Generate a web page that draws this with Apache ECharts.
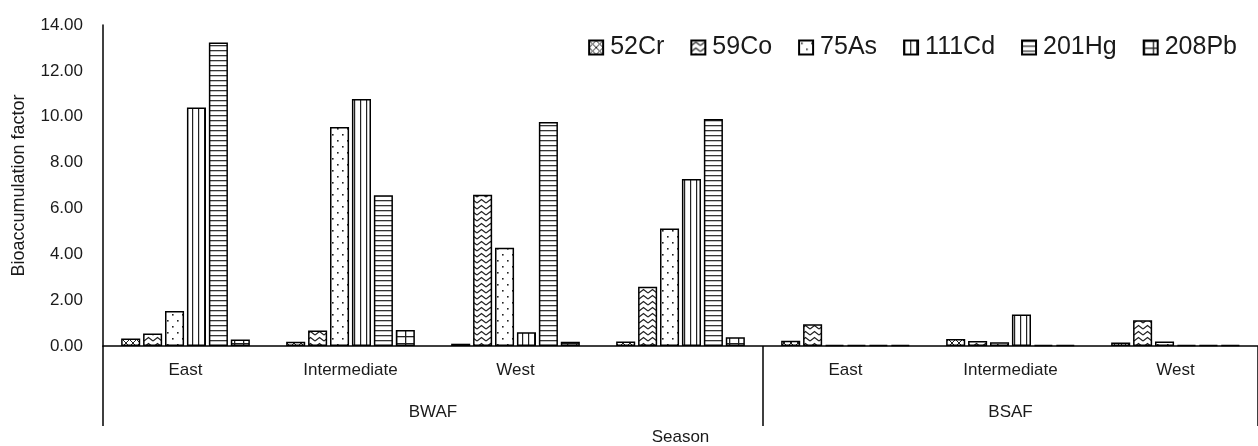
<!DOCTYPE html>
<html>
<head>
<meta charset="utf-8">
<script src="https://cdn.jsdelivr.net/npm/echarts@6/dist/echarts.min.js"></script>
<style>html,body{margin:0;padding:0;background:#fff}#c{width:1258px;height:446px}</style>
</head>
<body>
<div id="c"></div>
<script>
const categories = ['East', 'Intermediate', 'West', '', 'East', 'Intermediate', 'West'];
const groupLabels = ['BWAF', 'BSAF'];
const yTicks = [0, 2, 4, 6, 8, 10, 12, 14];
const seriesNames = ['52Cr', '59Co', '75As', '111Cd', '201Hg', '208Pb'];
const cr52 = [0.33, 0.18, 0.10, 0.20, 0.23, 0.30, 0.15];
const co59 = [0.55, 0.68, 6.60, 2.58, 0.95, 0.22, 1.12];
const as75 = [1.53, 9.55, 4.28, 5.13, 0.05, 0.16, 0.20];
const cd111 = [10.40, 10.77, 0.60, 7.28, 0.05, 1.37, 0.04];
const hg201 = [13.24, 6.58, 9.77, 9.90, 0.05, 0.05, 0.04];
const pb208 = [0.28, 0.70, 0.19, 0.38, 0.05, 0.05, 0.04];
const seriesValues = [cr52, co59, as75, cd111, hg201, pb208];

function makePattern(w, h, draw) {
  const c = document.createElement('canvas');
  c.width = w; c.height = h;
  const ctx = c.getContext('2d');
  ctx.fillStyle = '#fff';
  ctx.fillRect(0, 0, w, h);
  ctx.strokeStyle = '#222';
  ctx.fillStyle = '#222';
  ctx.lineWidth = 1;
  draw(ctx, w, h);
  return { image: c, repeat: 'repeat' };
}
const patterns = [
  makePattern(7, 7, (ctx) => {
    ctx.beginPath();
    ctx.moveTo(0, 0); ctx.lineTo(7, 7);
    ctx.moveTo(7, 0); ctx.lineTo(0, 7);
    ctx.stroke();
  }),
  makePattern(9, 6, (ctx) => {
    ctx.lineWidth = 1.2;
    ctx.beginPath();
    ctx.moveTo(0, 5); ctx.lineTo(4.5, 1.5); ctx.lineTo(9, 5);
    ctx.stroke();
  }),
  makePattern(10, 12, (ctx) => {
    ctx.fillRect(2, 2, 1.6, 1.6);
    ctx.fillRect(7, 8, 1.6, 1.6);
  }),
  makePattern(6, 4, (ctx) => {
    ctx.fillRect(0, 0, 1.2, 4);
  }),
  makePattern(4, 5, (ctx) => {
    ctx.fillStyle = '#333';
    ctx.fillRect(0, 0, 4, 1.3);
  }),
  makePattern(9, 7, (ctx) => {
    ctx.fillRect(0, 0, 9, 1.3);
    ctx.fillRect(0, 0, 1.3, 7);
  })
];

const FONT = '"Liberation Sans", Arial, sans-serif';
const TXT = '#1a1a1a';

const chart = echarts.init(document.getElementById('c'));
chart.setOption({
  animation: false,
  backgroundColor: '#fff',
  textStyle: { fontFamily: FONT, color: TXT },
  legend: {
    data: seriesNames,
    right: 16,
    top: 30,
    itemWidth: 14,
    itemHeight: 14,
    itemGap: 26,
    icon: 'rect',
    textStyle: { fontSize: 25, fontFamily: FONT, color: TXT, padding: [0, 0, 0, 2] }
  },
  grid: { left: 103, right: 0, top: 25, bottom: 100, containLabel: false, outerBoundsMode: 'none' },
  xAxis: [
    {
      type: 'category',
      data: categories,
      position: 'bottom',
      axisLine: { show: true, lineStyle: { color: '#000', width: 1.5 } },
      axisTick: { show: false },
      axisLabel: { interval: 0, margin: 16, fontSize: 17, color: TXT, fontFamily: FONT }
    },
    {
      type: 'category',
      data: categories,
      position: 'bottom',
      axisLine: { show: false },
      axisTick: {
        show: true,
        length: 80,
        interval: function (i) { return i === 0 || i === 4; },
        lineStyle: { color: '#000', width: 1.5 }
      },
      axisLabel: { show: false },
      splitLine: { show: false }
    },
    {
      type: 'value',
      min: 0,
      max: categories.length,
      interval: 0.5,
      position: 'bottom',
      axisLine: { show: false },
      axisTick: { show: false },
      splitLine: { show: false },
      axisLabel: {
        margin: 58,
        fontSize: 17,
        color: TXT,
        fontFamily: FONT,
        formatter: function (v) {
          if (v === 2) return groupLabels[0];
          if (v === 5.5) return groupLabels[1];
          return '';
        }
      },
      name: 'Season',
      nameLocation: 'middle',
      nameGap: 83,
      nameTextStyle: { fontSize: 17, color: TXT, fontFamily: FONT }
    }
  ],
  yAxis: {
    type: 'value',
    min: yTicks[0],
    max: yTicks[yTicks.length - 1],
    interval: 2,
    axisLine: { show: true, lineStyle: { color: '#000', width: 1.5 } },
    axisTick: { show: false },
    splitLine: { show: false },
    axisLabel: {
      margin: 20,
      fontSize: 17,
      color: TXT,
      fontFamily: FONT,
      formatter: function (v) { return v.toFixed(2); }
    },
    name: 'Bioaccumulation factor',
    nameLocation: 'middle',
    nameRotate: 90,
    nameGap: 75,
    nameTextStyle: { fontSize: 18, color: TXT, fontFamily: FONT }
  },
  series: seriesNames.map((name, i) => ({
    name: name,
    type: 'bar',
    xAxisIndex: 0,
    data: seriesValues[i],
    barGap: '15%',
    barCategoryGap: '22%',
    itemStyle: { color: patterns[i], borderColor: '#000', borderWidth: 1.5 },
    emphasis: { disabled: true }
  }))
});
</script>
</body>
</html>
